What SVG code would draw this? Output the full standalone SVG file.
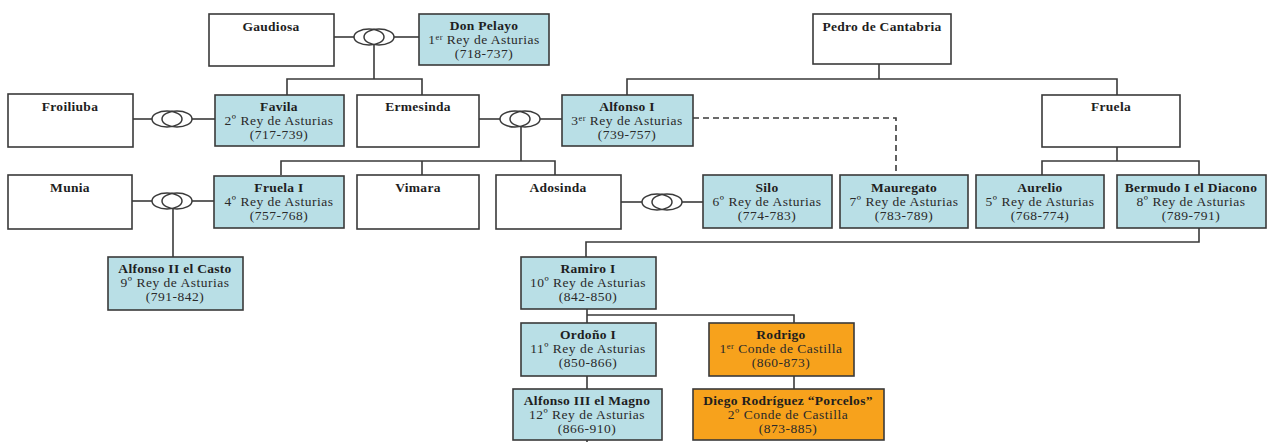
<svg xmlns="http://www.w3.org/2000/svg" width="1270" height="442" viewBox="0 0 1270 442">
<style>
.w{fill:#ffffff;stroke:#3a3a3a;stroke-width:1.6}
.b{fill:#b9dfe6;stroke:#3a3a3a;stroke-width:1.6}
.o{fill:#f7a21c;stroke:#3a3a3a;stroke-width:1.6}
.n{font-family:"Liberation Serif",serif;font-size:13.5px;font-weight:bold;letter-spacing:0.3px;fill:#1e1e1e;text-anchor:middle}
.t{font-family:"Liberation Serif",serif;font-size:13.5px;letter-spacing:0.5px;fill:#2a2a2a;text-anchor:middle}
.l{fill:none;stroke:#3a3a3a;stroke-width:1.6}
.d{fill:none;stroke:#3a3a3a;stroke-width:1.6;stroke-dasharray:6,4}
.r{fill:none;stroke:#3a3a3a;stroke-width:1.5}
.s{font-size:8.5px}
</style>
<defs>
<g id="ring"><ellipse cx="-5" cy="0" rx="15" ry="8" class="r"/><ellipse cx="5" cy="0" rx="15" ry="8" class="r"/></g>
</defs>
<rect width="1270" height="442" fill="#ffffff"/>
<g id="connectors">
<line class="l" x1="334" y1="37" x2="354" y2="37"/><line class="l" x1="394" y1="37" x2="419" y2="37"/>
<use href="#ring" x="374" y="37"/>
<line class="l" x1="374" y1="45" x2="374" y2="79"/>
<polyline class="l" points="287,95 287,79 422,79 422,95"/>
<line class="l" x1="133" y1="119" x2="152" y2="119"/><line class="l" x1="192" y1="119" x2="215" y2="119"/>
<use href="#ring" x="172" y="119"/>
<line class="l" x1="479" y1="119" x2="500" y2="119"/><line class="l" x1="540" y1="119" x2="562" y2="119"/>
<use href="#ring" x="520" y="119"/>
<line class="l" x1="521" y1="127" x2="521" y2="161"/>
<polyline class="l" points="281,175 281,161 555,161 555,175"/>
<line class="l" x1="422" y1="161" x2="422" y2="175"/>
<line class="l" x1="879" y1="64" x2="879" y2="79"/>
<polyline class="l" points="627,95 627,79 1117,79 1117,95"/>
<polyline class="d" points="693,118 896,118 896,175"/>
<line class="l" x1="1117" y1="147" x2="1117" y2="161"/>
<polyline class="l" points="1042,175 1042,161 1199,161 1199,175"/>
<line class="l" x1="132" y1="201" x2="152" y2="201"/><line class="l" x1="192" y1="201" x2="214" y2="201"/>
<use href="#ring" x="172" y="201"/>
<line class="l" x1="173" y1="209" x2="173" y2="257"/>
<line class="l" x1="621" y1="202" x2="642" y2="202"/><line class="l" x1="682" y1="202" x2="703" y2="202"/>
<use href="#ring" x="662" y="202"/>
<polyline class="l" points="1199,228 1199,242 586,242 586,257"/>
<line class="l" x1="587" y1="309" x2="587" y2="323"/>
<polyline class="l" points="587,315 794,315 794,323"/>
<line class="l" x1="587" y1="376" x2="587" y2="389"/>
<line class="l" x1="794" y1="376" x2="794" y2="389"/>
<line class="l" x1="587" y1="440" x2="587" y2="442"/>
</g>
<g id="gaudiosa"><rect class="w" x="209" y="14" width="125" height="52"/><text class="n" x="271" y="31">Gaudiosa</text></g>
<g id="pelayo"><rect class="b" x="419" y="14" width="130" height="51"/><text class="n" x="484" y="30">Don Pelayo</text><text class="t" x="484" y="44">1<tspan class="s" dy="-4">er</tspan><tspan dy="4"> Rey de Asturias</tspan></text><text class="t" x="484" y="58">(718-737)</text></g>
<g id="pedro"><rect class="w" x="813" y="14" width="138" height="50"/><text class="n" x="882" y="31">Pedro de Cantabria</text></g>
<g id="froiliuba"><rect class="w" x="8" y="94" width="125" height="53"/><text class="n" x="70" y="111">Froiliuba</text></g>
<g id="favila"><rect class="b" x="215" y="95" width="129" height="51"/><text class="n" x="279" y="111">Favila</text><text class="t" x="279" y="125">2º Rey de Asturias</text><text class="t" x="279" y="139">(717-739)</text></g>
<g id="ermesinda"><rect class="w" x="357" y="95" width="122" height="52"/><text class="n" x="418" y="111">Ermesinda</text></g>
<g id="alfonso1"><rect class="b" x="562" y="95" width="131" height="51"/><text class="n" x="627" y="111">Alfonso I</text><text class="t" x="627" y="125">3<tspan class="s" dy="-4">er</tspan><tspan dy="4"> Rey de Asturias</tspan></text><text class="t" x="627" y="139">(739-757)</text></g>
<g id="fruela"><rect class="w" x="1042" y="95" width="138" height="52"/><text class="n" x="1111" y="111">Fruela</text></g>
<g id="munia"><rect class="w" x="8" y="175" width="124" height="54"/><text class="n" x="70" y="192">Munia</text></g>
<g id="fruela1"><rect class="b" x="214" y="176" width="130" height="52"/><text class="n" x="279" y="192">Fruela I</text><text class="t" x="279" y="206">4º Rey de Asturias</text><text class="t" x="279" y="220">(757-768)</text></g>
<g id="vimara"><rect class="w" x="357" y="175" width="122" height="54"/><text class="n" x="418" y="192">Vimara</text></g>
<g id="adosinda"><rect class="w" x="496" y="175" width="125" height="54"/><text class="n" x="558" y="192">Adosinda</text></g>
<g id="silo"><rect class="b" x="703" y="175" width="129" height="53"/><text class="n" x="767" y="192">Silo</text><text class="t" x="767" y="206">6º Rey de Asturias</text><text class="t" x="767" y="220">(774-783)</text></g>
<g id="mauregato"><rect class="b" x="840" y="175" width="128" height="53"/><text class="n" x="904" y="192">Mauregato</text><text class="t" x="904" y="206">7º Rey de Asturias</text><text class="t" x="904" y="220">(783-789)</text></g>
<g id="aurelio"><rect class="b" x="976" y="175" width="128" height="53"/><text class="n" x="1040" y="192">Aurelio</text><text class="t" x="1040" y="206">5º Rey de Asturias</text><text class="t" x="1040" y="220">(768-774)</text></g>
<g id="bermudo"><rect class="b" x="1117" y="175" width="149" height="53"/><text class="n" x="1191" y="192">Bermudo I el Diacono</text><text class="t" x="1191" y="206">8º Rey de Asturias</text><text class="t" x="1191" y="220">(789-791)</text></g>
<g id="alfonso2"><rect class="b" x="108" y="257" width="135" height="53"/><text class="n" x="175" y="273">Alfonso II el Casto</text><text class="t" x="175" y="287">9º Rey de Asturias</text><text class="t" x="175" y="301">(791-842)</text></g>
<g id="ramiro1"><rect class="b" x="521" y="257" width="135" height="52"/><text class="n" x="588" y="273">Ramiro I</text><text class="t" x="588" y="287">10º Rey de Asturias</text><text class="t" x="588" y="301">(842-850)</text></g>
<g id="ordono1"><rect class="b" x="521" y="323" width="135" height="53"/><text class="n" x="588" y="339">Ordoño I</text><text class="t" x="588" y="353">11º Rey de Asturias</text><text class="t" x="588" y="367">(850-866)</text></g>
<g id="rodrigo"><rect class="o" x="709" y="323" width="145" height="53"/><text class="n" x="781" y="339">Rodrigo</text><text class="t" x="781" y="353">1<tspan class="s" dy="-4">er</tspan><tspan dy="4"> Conde de Castilla</tspan></text><text class="t" x="781" y="367">(860-873)</text></g>
<g id="alfonso3"><rect class="b" x="513" y="389" width="149" height="51"/><text class="n" x="587" y="405">Alfonso III el Magno</text><text class="t" x="587" y="419">12º Rey de Asturias</text><text class="t" x="587" y="433">(866-910)</text></g>
<g id="diego"><rect class="o" x="693" y="389" width="191" height="51"/><text class="n" x="788" y="405">Diego Rodríguez “Porcelos”</text><text class="t" x="788" y="419">2º Conde de Castilla</text><text class="t" x="788" y="433">(873-885)</text></g>
</svg>
